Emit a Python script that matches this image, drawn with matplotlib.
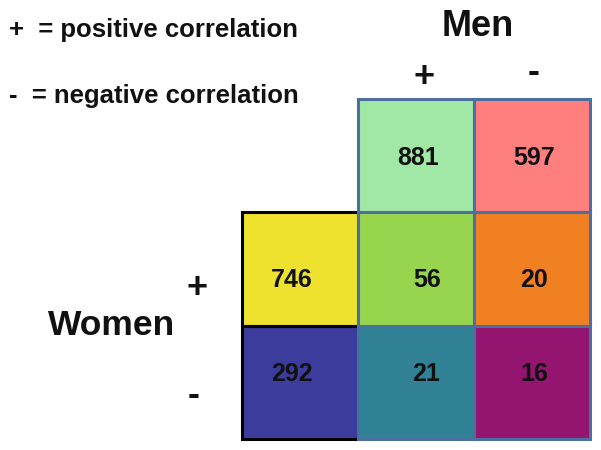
import matplotlib.pyplot as plt
from matplotlib.patches import Rectangle

# grid layout: row 0 = men totals, column 0 = women totals
row_labels = ["", "+", "-"]
col_labels = ["", "+", "-"]
counts = [
    [None, 881, 597],
    [746, 56, 20],
    [292, 21, 16],
]
colors = [
    [None, "#a1e7a6", "#ff7f7e"],
    ["#eee22f", "#98d54f", "#f18023"],
    ["#3b3c9c", "#318296", "#94156f"],
]
legend_lines = ["+  = positive correlation", "-  = negative correlation"]

plt.rcParams["font.family"] = ["Liberation Sans", "DejaVu Sans"]

fig = plt.figure(figsize=(6.01, 4.5), dpi=100)
ax = fig.add_axes([0, 0, 1, 1])
ax.set_xlim(-2.086, 3.095)
ax.set_ylim(3.098, -0.874)
ax.axis("off")

# small nudges of the numbers inside each cell (style only)
row_dy = [0.02, 0.1, -0.07]
col_dx = [-0.07, 0.04, 0.02]
cell_dx = [[0, -0.02, 0], [0, 0.06, 0], [0, 0.05, 0]]

# women column first (black border), then men cells on top (blue border)
for pass_women in (True, False):
    for r in range(3):
        for c in range(3):
            v = counts[r][c]
            if v is None:
                continue
            if (c == 0) != pass_women:
                continue
            edge = "black" if c == 0 else "#4d6f9f"
            ax.add_patch(Rectangle((c, r), 1, 1, facecolor=colors[r][c],
                                   edgecolor=edge, linewidth=2.2, zorder=2))
            ax.text(c + 0.5 + col_dx[c] + cell_dx[r][c], r + 0.5 + row_dy[r],
                    str(v), ha="center", va="center", fontsize=18,
                    fontweight="bold", color="#111111", zorder=3)

# headers
ax.text(2.03, -0.56, "Men", ha="center", va="baseline", fontsize=26,
        fontweight="bold", color="#111111")
ax.text(-1.12, 2.08, "Women", ha="center", va="baseline", fontsize=25.5,
        fontweight="bold", color="#111111")
ax.text(1.57, -0.19, col_labels[1], ha="center", va="center", fontsize=26,
        fontweight="bold", color="#111111")
ax.text(2.51, -0.235, col_labels[2], ha="center", va="center", fontsize=26,
        fontweight="bold", color="#111111")
ax.text(-0.39, 0.67 + 1, row_labels[1], ha="center", va="center", fontsize=26,
        fontweight="bold", color="#111111")
ax.text(-0.42, 0.62 + 2, row_labels[2], ha="center", va="center", fontsize=26,
        fontweight="bold", color="#111111")

# legend text
fig.text(0.015, 0.918, legend_lines[0], ha="left", va="baseline",
         fontsize=18.5, fontweight="bold", color="#111111")
fig.text(0.015, 0.77, legend_lines[1], ha="left", va="baseline",
         fontsize=18.5, fontweight="bold", color="#111111")

fig.savefig("out.png", dpi=100)
